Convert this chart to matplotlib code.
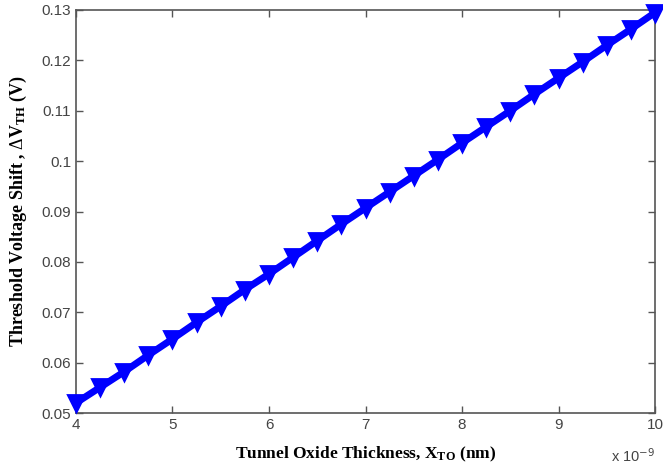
import matplotlib.pyplot as plt
import numpy as np

plt.rcParams['mathtext.fontset'] = 'custom'
plt.rcParams['mathtext.rm'] = 'Liberation Serif'
plt.rcParams['mathtext.bf'] = 'Liberation Serif:bold'
plt.rcParams['mathtext.it'] = 'Liberation Serif:italic'

# tunnel oxide thickness (x 1e-9 m) and threshold voltage shift (V)
x_to = [4.0, 4.25, 4.5, 4.75, 5.0, 5.25, 5.5, 5.75, 6.0, 6.25, 6.5, 6.75, 7.0,
        7.25, 7.5, 7.75, 8.0, 8.25, 8.5, 8.75, 9.0, 9.25, 9.5, 9.75, 10.0]
dvth = [0.0520, 0.0551, 0.0582, 0.0615, 0.0647, 0.0680, 0.0712, 0.0745, 0.0776,
        0.0809, 0.0842, 0.0875, 0.0907, 0.0939, 0.0971, 0.1003, 0.1036, 0.1068,
        0.1100, 0.1133, 0.1165, 0.1197, 0.1230, 0.1262, 0.1295]
xticks = [4, 5, 6, 7, 8, 9, 10]
yticks = [0.05, 0.06, 0.07, 0.08, 0.09, 0.1, 0.11, 0.12, 0.13]
ytick_labels = ['0.05', '0.06', '0.07', '0.08', '0.09', '0.1', '0.11', '0.12', '0.13']

fig = plt.figure(figsize=(6.63, 4.67), dpi=100)
ax = fig.add_axes([0.1146, 0.1156, 0.8734, 0.863])

ax.plot(x_to, dvth, color='#0000ff', linewidth=5, marker='v',
        markersize=11, markeredgewidth=2, markerfacecolor='#0000ff',
        markeredgecolor='#0000ff', clip_on=False, zorder=3)

ax.set_xlim(4, 10)
ax.set_ylim(0.05, 0.13)
ax.set_xticks(xticks)
ax.set_xticklabels([str(t) for t in xticks])
ax.set_yticks(yticks)
ax.set_yticklabels(ytick_labels)

for s in ax.spines.values():
    s.set_color('#555555')
    s.set_linewidth(1.2)
ax.tick_params(direction='in', top=True, right=True, length=5, width=1,
               color='#555555', labelcolor='#444444', labelsize=11)
for lab in ax.get_xticklabels() + ax.get_yticklabels():
    lab.set_family('Liberation Sans')

ax.set_xlabel(r'Tunnel Oxide Thickness, $\mathbf{X_{TO}}$ (nm)',
              family='Liberation Serif', fontweight='bold', fontsize=12.5,
              labelpad=9)
ax.set_ylabel(r'Threshold Voltage Shift , $\Delta\mathbf{V_{TH}}$ (V)',
              family='Liberation Serif', fontweight='bold', fontsize=13,
              labelpad=9)

ax.text(1.0, -0.085, r'x 10$^{\mathsf{-9}}$', transform=ax.transAxes, ha='right',
        va='top', fontsize=10.5, color='#444444', family='Liberation Sans')

fig.savefig('out.png', dpi=100)
